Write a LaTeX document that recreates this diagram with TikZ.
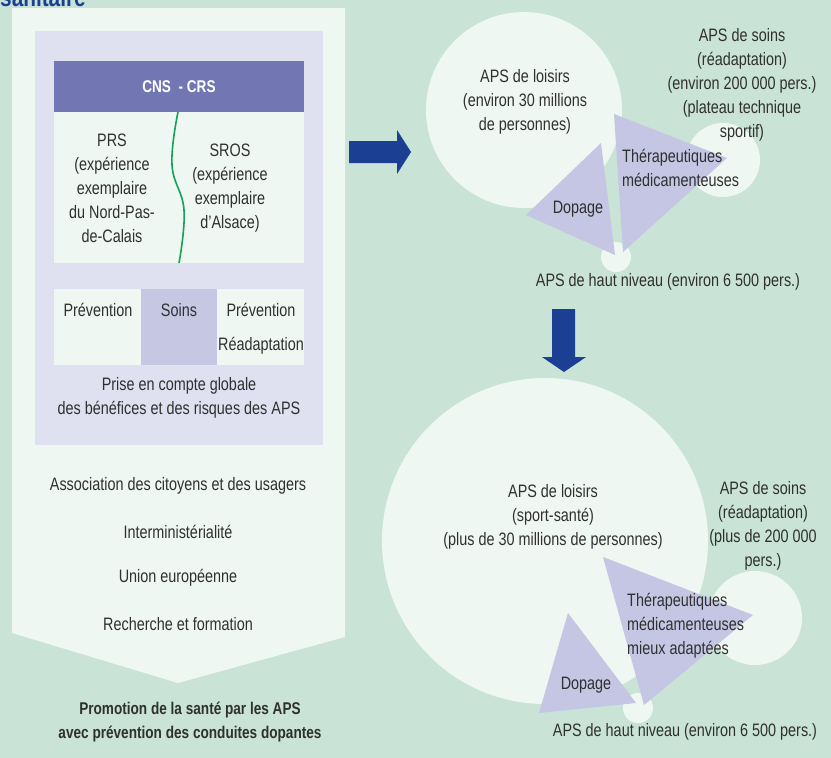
\documentclass[tikz,border=0pt]{standalone}
\usepackage{fontspec}
\setmainfont{Liberation Sans}[FakeStretch=0.8]
\definecolor{bgc}{HTML}{C9E3D6}
\definecolor{panelc}{HTML}{EEF7F2}
\definecolor{lavc}{HTML}{DFE0F0}
\definecolor{headc}{HTML}{7277B4}
\definecolor{soinsc}{HTML}{C6C7E3}
\definecolor{tric}{HTML}{C5C6E3}
\definecolor{arrc}{HTML}{1B3F93}
\definecolor{greenc}{HTML}{16A05A}
\definecolor{txtc}{HTML}{303030}
\tikzset{
  txt/.style={text=txtc, font=\fontsize{18}{24}\selectfont, align=center, inner sep=0pt},
  boldtxt/.style={text=txtc, font=\bfseries\fontsize{17}{24}\selectfont, align=center, inner sep=0pt},
  disc/.style={circle, fill=panelc, inner sep=0pt},
  tri/.style={fill=tric},
  bigarrow/.style={fill=arrc}
}
\begin{document}
\begin{tikzpicture}[x=1pt,y=-1pt]
\useasboundingbox (0,0) rectangle (831,758);
\clip (0,0) rectangle (831,758);
\fill[bgc] (0,0) rectangle (831,758);
% title (cut off at the top edge)
\node[anchor=base west, inner sep=0pt, text=arrc, font=\bfseries\fontsize{26}{28}\selectfont] (title) at (0,6) {sanitaire};
% left panel with chevron bottom
\fill[panelc] (12,8) -- (345,8) -- (345,637) -- (178,683) -- (12,633) -- cycle;
\fill[lavc] (35,31) rectangle (323,445);
% CNS-CRS box
\fill[headc] (54,61) rectangle (304,112);
\fill[panelc] (54,112) rectangle (304,263);
\node[font=\bfseries\fontsize{17}{24}\selectfont, text=white, inner sep=0pt] (cns) at (179,87) {CNS\ \ - CRS};
\draw[greenc, line width=1.6pt] plot[smooth, tension=0.7] coordinates {(178,112) (172,165) (184,210) (179,263)};
\node[txt] (prs) at (112,188) {PRS\\(expérience\\exemplaire\\du Nord-Pas-\\de-Calais};
\node[txt] (sros) at (230,188) {SROS\\(expérience\\exemplaire\\d’Alsace)};
% row of cells
\fill[panelc] (54,289) rectangle (141,365);
\fill[soinsc] (141,289) rectangle (217,365);
\fill[panelc] (217,289) rectangle (304,365);
\node[txt] (prev1) at (98,310) {Prévention};
\node[txt] (soins) at (179,310) {Soins};
\node[txt] (prev2) at (261,310) {Prévention};
\node[txt] (read) at (261,346) {Réadaptation};
\node[txt] (prise) at (179,398) {Prise en compte globale\\des bénéfices et des risques des APS};
\node[txt] (assoc) at (178,486) {Association des citoyens et des usagers};
\node[txt] (inter) at (178,532) {Interministérialité};
\node[txt] (union) at (178,578) {Union européenne};
\node[txt] (rech) at (178,624) {Recherche et formation};
\node[boldtxt] (promo) at (190,722) {Promotion de la santé par les APS\\avec prévention des conduites dopantes};
% arrows
\fill[bigarrow] (349,141) -- (397,141) -- (397,130) -- (411,152) -- (397,174) -- (397,163) -- (349,163) -- cycle;
\fill[bigarrow] (552,309) -- (575,309) -- (575,357) -- (586,357) -- (564,372) -- (542,357) -- (552,357) -- cycle;
% top cluster
\node[disc, minimum size=196pt] (loisirs1) at (524,110) {};
\node[disc, minimum size=74pt] (soinsc1) at (723,160) {};
\node[disc, minimum size=30pt] (haut1) at (616,257) {};
\fill[tri] (526,215) -- (601,143) -- (615,255) -- cycle;
\fill[tri] (614,114) -- (727,158) -- (623,252) -- cycle;
\node[txt] (tl1) at (525,102) {APS de loisirs\\(environ 30 millions\\de personnes)};
\node[txt] (ts1) at (742,85) {APS de soins\\(réadaptation)\\(environ 200 000 pers.)\\(plateau technique\\sportif)};
\node[txt, align=left, anchor=west] (tt1) at (622,168) {Thérapeutiques\\médicamenteuses};
\node[txt] (td1) at (578,209) {Dopage};
\node[txt] (th1) at (668,282) {APS de haut niveau (environ 6 500 pers.)};
% bottom cluster
\node[disc, minimum size=326pt] (loisirs2) at (545,541) {};
\node[disc, minimum size=94pt] (soinsc2) at (755,618) {};
\node[disc, minimum size=30pt] (haut2) at (638,708) {};
\fill[tri] (539,713) -- (568,613) -- (636,703) -- cycle;
\fill[tri] (603,557) -- (753,615) -- (644,705) -- cycle;
\node[txt] (tl2) at (553,517) {APS de loisirs\\(sport-santé)\\(plus de 30 millions de personnes)};
\node[txt] (ts2) at (763,526) {APS de soins\\(réadaptation)\\(plus de 200 000\\pers.)};
\node[txt, align=left, anchor=west] (tt2) at (627,626) {Thérapeutiques\\médicamenteuses\\mieux adaptées};
\node[txt] (td2) at (586,685) {Dopage};
\node[txt] (th2) at (685,732) {APS de haut niveau (environ 6 500 pers.)};
\end{tikzpicture}
\end{document}
